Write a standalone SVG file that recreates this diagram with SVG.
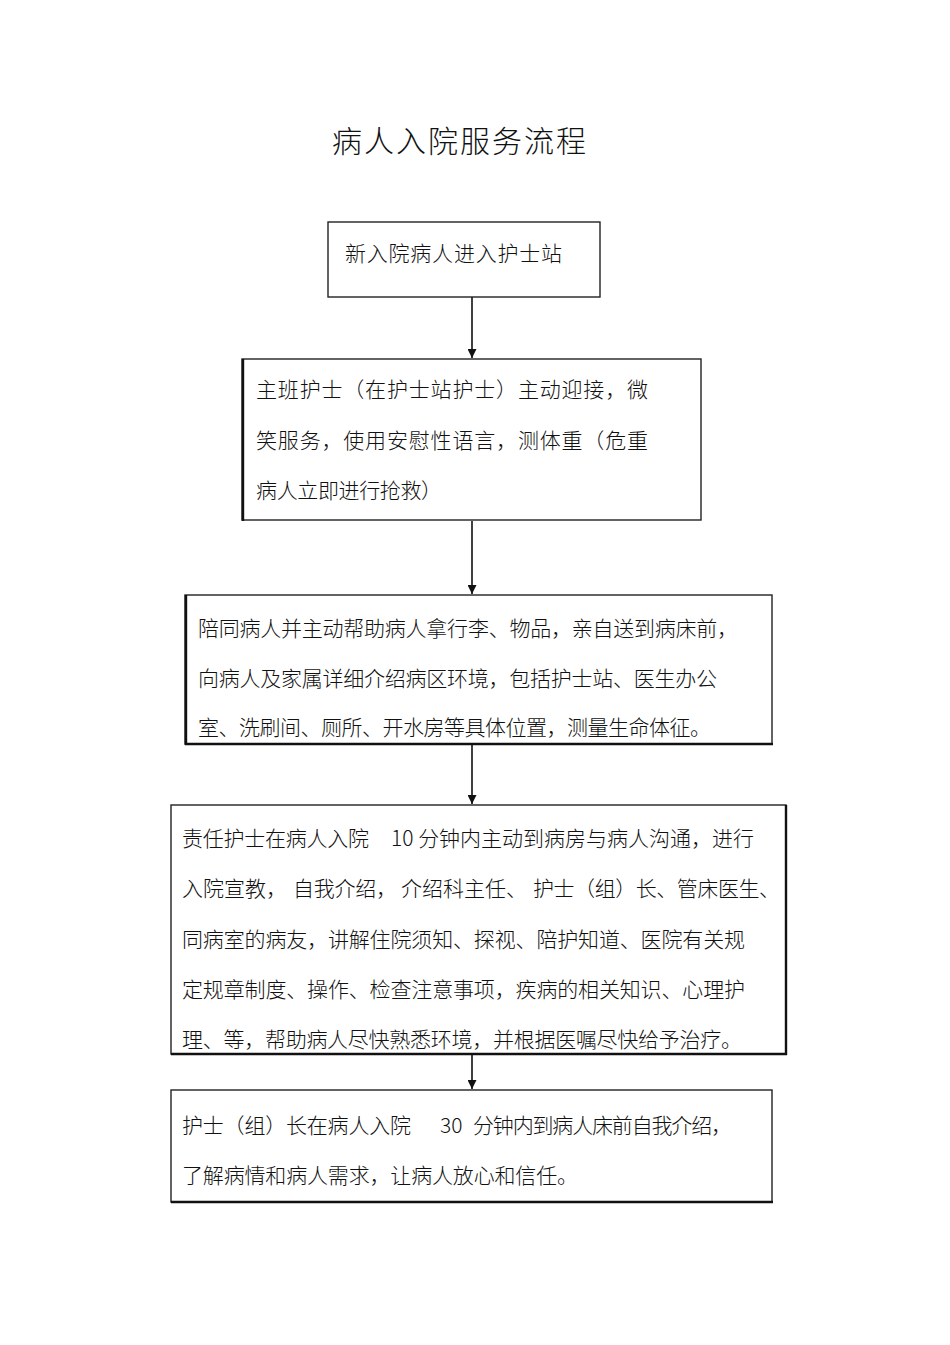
<svg xmlns="http://www.w3.org/2000/svg" width="950" height="1345" viewBox="0 0 950 1345">
<style>
.t{font-family:"Noto Sans CJK SC","Liberation Sans",sans-serif;font-size:21px;font-weight:300;fill:#111}
.h{font-family:"Noto Sans CJK SC","Liberation Sans",sans-serif;font-size:30px;font-weight:300;fill:#111}
.b{fill:#fff;stroke:#222;stroke-width:1.4}
.e{stroke:#111;stroke-width:2.4;fill:none}
.c{stroke:#111;stroke-width:1.6;fill:none}
</style>
<defs>
<marker id="ah" viewBox="0 0 10 10" refX="10" refY="5" markerWidth="10" markerHeight="9" markerUnits="userSpaceOnUse" orient="auto">
<path d="M0,0 L10,5 L0,10 z" fill="#111"/>
</marker>
</defs>
<rect width="950" height="1345" fill="#fff"/>
<text class="h" x="332" y="152" textLength="254" lengthAdjust="spacing">病人入院服务流程</text>
<g id="connectors">
<line class="c" x1="472" y1="297" x2="472" y2="358" marker-end="url(#ah)"/>
<line class="c" x1="472" y1="521" x2="472" y2="594" marker-end="url(#ah)"/>
<line class="c" x1="472" y1="745" x2="472" y2="804" marker-end="url(#ah)"/>
<line class="c" x1="472" y1="1055" x2="472" y2="1089" marker-end="url(#ah)"/>
</g>
<g id="n1">
<rect class="b" x="328" y="222" width="272" height="75"/>
<text class="t" x="345" y="261" textLength="217" lengthAdjust="spacing">新入院病人进入护士站</text>
</g>
<g id="n2">
<rect class="b" x="242" y="359" width="459" height="161"/>
<line class="e" x1="243" y1="359" x2="243" y2="521"/>
<text class="t" x="256" y="397" textLength="392" lengthAdjust="spacing">主班护士（在护士站护士）主动迎接，微</text>
<text class="t" x="256" y="448" textLength="392" lengthAdjust="spacing">笑服务，使用安慰性语言，测体重（危重</text>
<text class="t" x="256" y="498" textLength="186" lengthAdjust="spacing">病人立即进行抢救）</text>
</g>
<g id="n3">
<rect class="b" x="185" y="595" width="587" height="149"/>
<line class="e" x1="186" y1="595" x2="186" y2="745"/>
<line class="e" x1="185" y1="744" x2="773" y2="744"/>
<text class="t" x="198" y="636" textLength="540" lengthAdjust="spacing">陪同病人并主动帮助病人拿行李、物品，亲自送到病床前，</text>
<text class="t" x="198" y="686" textLength="519" lengthAdjust="spacing">向病人及家属详细介绍病区环境，包括护士站、医生办公</text>
<text class="t" x="198" y="735" textLength="513" lengthAdjust="spacing">室、洗刷间、厕所、开水房等具体位置，测量生命体征。</text>
</g>
<g id="n4">
<rect class="b" x="171" y="805" width="615" height="249"/>
<line class="e" x1="786" y1="805" x2="786" y2="1055"/>
<line class="e" x1="171" y1="1054" x2="787" y2="1054"/>
<text class="t" x="182" y="846" textLength="187" lengthAdjust="spacing">责任护士在病人入院</text>
<text class="t" x="391" y="846" textLength="363" lengthAdjust="spacing">10 分钟内主动到病房与病人沟通，进行</text>
<text class="t" x="182" y="896" textLength="105" lengthAdjust="spacing">入院宣教，</text>
<text class="t" x="293" y="896" textLength="104" lengthAdjust="spacing">自我介绍，</text>
<text class="t" x="401" y="896" textLength="126" lengthAdjust="spacing">介绍科主任、</text>
<text class="t" x="533" y="896" textLength="247" lengthAdjust="spacing">护士（组）长、管床医生、</text>
<text class="t" x="182" y="947" textLength="563" lengthAdjust="spacing">同病室的病友，讲解住院须知、探视、陪护知道、医院有关规</text>
<text class="t" x="182" y="997" textLength="563" lengthAdjust="spacing">定规章制度、操作、检查注意事项，疾病的相关知识、心理护</text>
<text class="t" x="182" y="1047" textLength="560" lengthAdjust="spacing">理、等，帮助病人尽快熟悉环境，并根据医嘱尽快给予治疗。</text>
</g>
<g id="n5">
<rect class="b" x="171" y="1090" width="601" height="112"/>
<line class="e" x1="171" y1="1202" x2="773" y2="1202"/>
<text class="t" x="182" y="1133" textLength="229" lengthAdjust="spacing">护士（组）长在病人入院</text>
<text class="t" x="440" y="1133">30</text>
<text class="t" x="473" y="1133" textLength="259" lengthAdjust="spacing">分钟内到病人床前自我介绍，</text>
<text class="t" x="182" y="1183" textLength="396" lengthAdjust="spacing">了解病情和病人需求，让病人放心和信任。</text>
</g>
</svg>
